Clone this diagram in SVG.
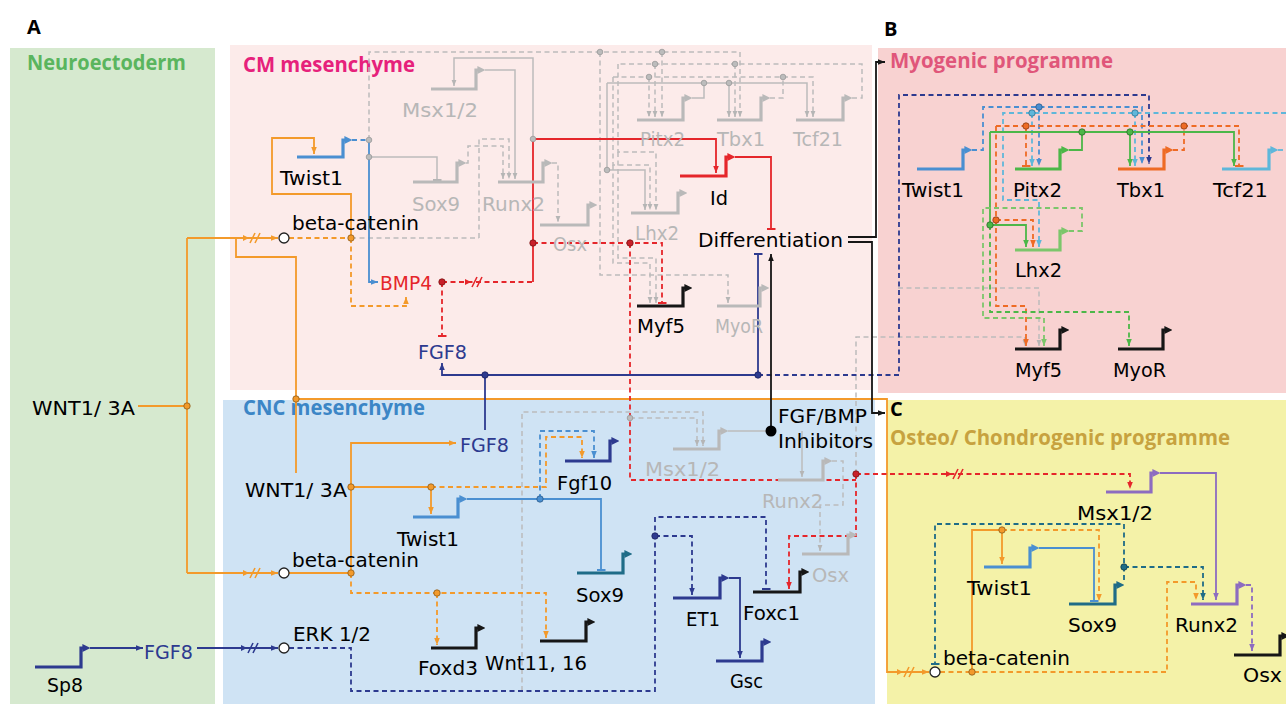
<svg xmlns="http://www.w3.org/2000/svg" width="1286" height="704" viewBox="0 0 1286 704">
<style>
text{font-family:"DejaVu Sans",Verdana,sans-serif;font-size:19px}
.hd{font-family:"Open Sans","Noto Sans",sans-serif;font-weight:700;font-size:21px}
.pl{font-family:"Open Sans","Noto Sans",sans-serif;font-weight:700;font-size:20px;fill:#000}
.lt{fill:#b7b7b7}
.g{fill:none;stroke-width:3.2}
.c{fill:none;stroke-width:1.8}
.cg{fill:none;stroke-width:1.5;stroke:#bcbcbc}
.d{stroke-dasharray:5 3.5}
.sl{fill:none;stroke-width:1.6}
.or{stroke:#f39a2b}.rd{stroke:#e5262b}.bl{stroke:#4a8fd1}.nv{stroke:#2d3a8f}.bk{stroke:#161616}
.lb{stroke:#5fb7da}.to{stroke:#ee6b25}.gr{stroke:#4cb748}.lg{stroke:#7cc66b}.pu{stroke:#8d6cc0}.tl{stroke:#1f6c87}
</style>
<defs>
<marker id="a-or" viewBox="0 0 10 10" refX="10" refY="5" markerWidth="7" markerHeight="7" markerUnits="userSpaceOnUse" orient="auto"><path d="M0,1L10,5L0,9z" fill="#f39a2b"/></marker>
<marker id="a-rd" viewBox="0 0 10 10" refX="10" refY="5" markerWidth="7" markerHeight="7" markerUnits="userSpaceOnUse" orient="auto"><path d="M0,1L10,5L0,9z" fill="#e5262b"/></marker>
<marker id="a-bl" viewBox="0 0 10 10" refX="10" refY="5" markerWidth="7" markerHeight="7" markerUnits="userSpaceOnUse" orient="auto"><path d="M0,1L10,5L0,9z" fill="#4a8fd1"/></marker>
<marker id="a-nv" viewBox="0 0 10 10" refX="10" refY="5" markerWidth="7" markerHeight="7" markerUnits="userSpaceOnUse" orient="auto"><path d="M0,1L10,5L0,9z" fill="#2d3a8f"/></marker>
<marker id="a-bk" viewBox="0 0 10 10" refX="10" refY="5" markerWidth="7" markerHeight="7" markerUnits="userSpaceOnUse" orient="auto"><path d="M0,1L10,5L0,9z" fill="#161616"/></marker>
<marker id="a-gy" viewBox="0 0 10 10" refX="10" refY="5" markerWidth="6" markerHeight="6" markerUnits="userSpaceOnUse" orient="auto"><path d="M0,1L10,5L0,9z" fill="#b5b5b5"/></marker>
<marker id="a-lb" viewBox="0 0 10 10" refX="10" refY="5" markerWidth="7" markerHeight="7" markerUnits="userSpaceOnUse" orient="auto"><path d="M0,1L10,5L0,9z" fill="#5fb7da"/></marker>
<marker id="a-to" viewBox="0 0 10 10" refX="10" refY="5" markerWidth="7" markerHeight="7" markerUnits="userSpaceOnUse" orient="auto"><path d="M0,1L10,5L0,9z" fill="#ee6b25"/></marker>
<marker id="a-gr" viewBox="0 0 10 10" refX="10" refY="5" markerWidth="7" markerHeight="7" markerUnits="userSpaceOnUse" orient="auto"><path d="M0,1L10,5L0,9z" fill="#4cb748"/></marker>
<marker id="a-lg" viewBox="0 0 10 10" refX="10" refY="5" markerWidth="7" markerHeight="7" markerUnits="userSpaceOnUse" orient="auto"><path d="M0,1L10,5L0,9z" fill="#7cc66b"/></marker>
<marker id="a-pu" viewBox="0 0 10 10" refX="10" refY="5" markerWidth="7" markerHeight="7" markerUnits="userSpaceOnUse" orient="auto"><path d="M0,1L10,5L0,9z" fill="#8d6cc0"/></marker>
<marker id="a-tl" viewBox="0 0 10 10" refX="10" refY="5" markerWidth="7" markerHeight="7" markerUnits="userSpaceOnUse" orient="auto"><path d="M0,1L10,5L0,9z" fill="#1f6c87"/></marker>
<marker id="t-rd" viewBox="0 0 10 10" refX="8" refY="5" markerWidth="9" markerHeight="9" markerUnits="userSpaceOnUse" orient="auto"><path d="M8,0V10" stroke="#e5262b" stroke-width="2.2"/></marker>
<marker id="t-bl" viewBox="0 0 10 10" refX="8" refY="5" markerWidth="9" markerHeight="9" markerUnits="userSpaceOnUse" orient="auto"><path d="M8,0V10" stroke="#4a8fd1" stroke-width="2.2"/></marker>
<marker id="t-nv" viewBox="0 0 10 10" refX="8" refY="5" markerWidth="9" markerHeight="9" markerUnits="userSpaceOnUse" orient="auto"><path d="M8,0V10" stroke="#2d3a8f" stroke-width="2.2"/></marker>
<marker id="t-gy" viewBox="0 0 10 10" refX="8" refY="5" markerWidth="9" markerHeight="9" markerUnits="userSpaceOnUse" orient="auto"><path d="M8,0V10" stroke="#b5b5b5" stroke-width="2.2"/></marker>
<marker id="t-to" viewBox="0 0 10 10" refX="8" refY="5" markerWidth="9" markerHeight="9" markerUnits="userSpaceOnUse" orient="auto"><path d="M8,0V10" stroke="#ee6b25" stroke-width="2.2"/></marker>
<marker id="t-tl" viewBox="0 0 10 10" refX="8" refY="5" markerWidth="9" markerHeight="9" markerUnits="userSpaceOnUse" orient="auto"><path d="M8,0V10" stroke="#1f6c87" stroke-width="2.2"/></marker>
<marker id="p-bl" viewBox="0 0 10 10" refX="2" refY="5" markerWidth="8" markerHeight="8" markerUnits="userSpaceOnUse" orient="auto"><path d="M0,0L10,5L0,10z" fill="#4a8fd1"/></marker>
<marker id="p-gy" viewBox="0 0 10 10" refX="2" refY="5" markerWidth="8" markerHeight="8" markerUnits="userSpaceOnUse" orient="auto"><path d="M0,0L10,5L0,10z" fill="#b9b9b9"/></marker>
<marker id="p-rd" viewBox="0 0 10 10" refX="2" refY="5" markerWidth="8" markerHeight="8" markerUnits="userSpaceOnUse" orient="auto"><path d="M0,0L10,5L0,10z" fill="#e5262b"/></marker>
<marker id="p-bk" viewBox="0 0 10 10" refX="2" refY="5" markerWidth="8" markerHeight="8" markerUnits="userSpaceOnUse" orient="auto"><path d="M0,0L10,5L0,10z" fill="#161616"/></marker>
<marker id="p-nv" viewBox="0 0 10 10" refX="2" refY="5" markerWidth="8" markerHeight="8" markerUnits="userSpaceOnUse" orient="auto"><path d="M0,0L10,5L0,10z" fill="#2d3a8f"/></marker>
<marker id="p-tl" viewBox="0 0 10 10" refX="2" refY="5" markerWidth="8" markerHeight="8" markerUnits="userSpaceOnUse" orient="auto"><path d="M0,0L10,5L0,10z" fill="#1f6c87"/></marker>
<marker id="p-gr" viewBox="0 0 10 10" refX="2" refY="5" markerWidth="8" markerHeight="8" markerUnits="userSpaceOnUse" orient="auto"><path d="M0,0L10,5L0,10z" fill="#4cb748"/></marker>
<marker id="p-lg" viewBox="0 0 10 10" refX="2" refY="5" markerWidth="8" markerHeight="8" markerUnits="userSpaceOnUse" orient="auto"><path d="M0,0L10,5L0,10z" fill="#7cc66b"/></marker>
<marker id="p-to" viewBox="0 0 10 10" refX="2" refY="5" markerWidth="8" markerHeight="8" markerUnits="userSpaceOnUse" orient="auto"><path d="M0,0L10,5L0,10z" fill="#ee6b25"/></marker>
<marker id="p-lb" viewBox="0 0 10 10" refX="2" refY="5" markerWidth="8" markerHeight="8" markerUnits="userSpaceOnUse" orient="auto"><path d="M0,0L10,5L0,10z" fill="#5fb7da"/></marker>
<marker id="p-pu" viewBox="0 0 10 10" refX="2" refY="5" markerWidth="8" markerHeight="8" markerUnits="userSpaceOnUse" orient="auto"><path d="M0,0L10,5L0,10z" fill="#8d6cc0"/></marker>
</defs>

<g id="panels">
<rect x="10" y="48" width="205" height="656" fill="#d6e9cf"/>
<rect x="230" y="45" width="642" height="345" fill="#fcebea"/>
<rect x="223" y="400" width="652" height="304" fill="#cfe3f4"/>
<rect x="878" y="48" width="408" height="345" fill="#f8d2d1"/>
<rect x="887" y="400" width="399" height="304" fill="#f4f2a8"/>
</g>

<g id="titles">
<text class="pl" x="27" y="34">A</text>
<text class="pl" x="884" y="36">B</text>
<text class="pl" x="890" y="416">C</text>
<text class="hd" x="27" y="70" fill="#5ab55e" textLength="159" lengthAdjust="spacingAndGlyphs">Neuroectoderm</text>
<text class="hd" x="243" y="72" fill="#e6217b" textLength="172" lengthAdjust="spacingAndGlyphs">CM mesenchyme</text>
<text class="hd" x="243" y="415" fill="#3c86c6" textLength="182" lengthAdjust="spacingAndGlyphs">CNC mesenchyme</text>
<text class="hd" x="890" y="68" fill="#e0567a" textLength="223" lengthAdjust="spacingAndGlyphs">Myogenic programme</text>
<text class="hd" x="890" y="445" fill="#c7a23f" textLength="340" lengthAdjust="spacingAndGlyphs">Osteo/ Chondrogenic programme</text>
</g>

<g id="connectors">
<g id="gray-links">
<path class="cg d" marker-end="url(#a-gy)" d="M369,140V52H740V117"/>
<path class="cg d" marker-end="url(#a-gy)" d="M662,52V117"/>
<path class="cg" marker-end="url(#t-gy)" d="M369,157H437V180"/>
<path class="cg d" marker-end="url(#a-gy)" d="M466,163H468V146H503V179"/>
<path class="cg d" d="M351,238H479"/>
<path class="cg d" marker-end="url(#a-gy)" d="M479,238V139H509V179"/>
<path class="cg" marker-end="url(#a-gy)" d="M485,70H515V179"/>
<path class="cg" marker-end="url(#a-gy)" d="M533,139V58H454V86"/>
<path class="cg d" marker-end="url(#a-gy)" d="M552,163H558V222"/>
<path class="cg" d="M692,98H704V83"/>
<path class="cg" marker-end="url(#a-gy)" d="M607,83H807V117"/>
<path class="cg" marker-end="url(#a-gy)" d="M729,83V117"/>
<path class="cg d" d="M770,98H783V77"/>
<path class="cg d" marker-end="url(#a-gy)" d="M613,77H813V117"/>
<path class="cg d" marker-end="url(#a-gy)" d="M649,77V117"/>
<path class="cg d" d="M852,98H862V64H618"/>
<path class="cg d" marker-end="url(#a-gy)" d="M655,64V117"/>
<path class="cg d" marker-end="url(#a-gy)" d="M735,64V117"/>
<path class="cg d" marker-end="url(#a-gy)" d="M600,52V275H728V303"/>
<path class="cg" marker-end="url(#a-gy)" d="M607,83V170H645V210"/>
<path class="cg d" marker-end="url(#a-gy)" d="M613,77V165H650V210"/>
<path class="cg d" marker-end="url(#a-gy)" d="M618,64V152H656V210"/>
<path class="cg d" marker-end="url(#a-gy)" d="M613,165V263H650V303"/>
<path class="cg d" marker-end="url(#a-gy)" d="M618,152V258H656V303"/>
<path class="cg d" marker-end="url(#a-gy)" d="M522,691V412H703V446"/>
<path class="cg d" marker-end="url(#a-gy)" d="M630,418H697V446"/>
<path class="cg" d="M728,431H771"/>
<path class="cg" marker-end="url(#a-gy)" d="M802,431V477"/>
<path class="cg d" marker-end="url(#a-gy)" d="M832,461H843V505H820V551"/>
<path class="cg d" marker-end="url(#a-gy)" d="M856,474V337H1025V346"/>
<path class="cg d" marker-end="url(#a-gy)" d="M898,288H1039V346"/>
</g>

<g id="orange-links">
<path class="c or" d="M138,406H187"/>
<path class="c or" d="M187,238V573"/>
<path class="c or" marker-end="url(#a-or)" d="M187,238H278"/>
<path class="c or" d="M236,238V257H296V473"/>
<path class="c or" marker-end="url(#a-or)" d="M187,573H278"/>
<path class="c or d" d="M289,238H351"/>
<path class="c or" marker-end="url(#a-or)" d="M351,238V194H272V138H314V154"/>
<path class="c or d" marker-end="url(#a-or)" d="M351,238V306H406V297"/>
<path class="c or" marker-end="url(#a-or)" d="M296,399H887V672H929"/>
<path class="c or" d="M289,573H351"/>
<path class="c or" marker-end="url(#a-or)" d="M351,573V443H456"/>
<path class="c or" d="M351,487H431"/>
<path class="c or" marker-end="url(#a-or)" d="M431,487V514"/>
<path class="c or d" marker-end="url(#a-or)" d="M431,487H546V437H582V458"/>
<path class="c or d" marker-end="url(#a-or)" d="M351,573V593H546V638"/>
<path class="c or d" marker-end="url(#a-or)" d="M437,593V645"/>
<path class="c or d" marker-end="url(#a-or)" d="M940,672H1167V582H1196V600"/>
<path class="c or" d="M972,672V530H1002"/>
<path class="c or" marker-end="url(#a-or)" d="M1002,530V564"/>
<path class="c or d" marker-end="url(#a-or)" d="M1002,530H1099V601"/>
<path d="M243,235L249,238L243,241z" fill="#f39a2b"/>
<path class="sl or" d="M250,243L255,233M255,243L260,233"/>
<path d="M243,570L249,573L243,576z" fill="#f39a2b"/>
<path class="sl or" d="M250,578L255,568M255,578L260,568"/>
<path d="M897,669L903,672L897,675z" fill="#f39a2b"/>
<path class="sl or" d="M904,677L909,667M909,677L914,667"/>
</g>

<g id="red-links">
<path class="c rd d" d="M442,282H533"/>
<path class="c rd" marker-end="url(#a-rd)" d="M533,282V139H716V173"/>
<path class="c rd d" marker-end="url(#t-rd)" d="M442,282V336"/>
<path class="c rd d" marker-end="url(#t-rd)" d="M533,243H662V303"/>
<path class="c rd d" d="M630,243V480H856"/>
<path class="c rd d" marker-end="url(#a-rd)" d="M856,474V536H789V589"/>
<path class="c rd d" marker-end="url(#a-rd)" d="M856,474H1130V489"/>
<path class="c rd" marker-end="url(#t-rd)" d="M735,157H771V229"/>
<path d="M465,279L471,282L465,285z" fill="#e5262b"/>
<path class="sl rd" d="M472,287L477,277M477,287L482,277"/>
<path d="M946,471L952,474L946,477z" fill="#e5262b"/>
<path class="sl rd" d="M953,479L958,469M958,479L963,469"/>
</g>

<g id="blue-links">
<path class="c bl d" d="M352,140H369"/>
<path class="c bl" marker-end="url(#a-bl)" d="M369,140V282H378"/>
<path class="c bl" marker-end="url(#t-bl)" d="M467,499H601V570"/>
<path class="c bl d" marker-end="url(#a-bl)" d="M540,499V431H594V458"/>
<path class="c bl d" marker-end="url(#a-bl)" d="M972,150H983V107H1142V164"/>
<path class="c bl d" marker-end="url(#a-bl)" d="M1039,107V166"/>
<path class="c bl" marker-end="url(#t-bl)" d="M1039,548H1094V601"/>
</g>

<g id="navy-links">
<path class="c nv" d="M485,430V375"/>
<path class="c nv" marker-end="url(#a-nv)" d="M758,375H442V363"/>
<path class="c nv" marker-end="url(#t-nv)" d="M758,375V254"/>
<path class="c nv d" marker-end="url(#a-nv)" d="M758,375H899V95H1149V164"/>
<path class="c nv" marker-end="url(#a-nv)" d="M90,648H143"/>
<path class="c nv" marker-end="url(#a-nv)" d="M197,648H278"/>
<path class="c nv d" marker-end="url(#t-nv)" d="M289,648H351V691H655V517H766V589"/>
<path class="c nv d" marker-end="url(#a-nv)" d="M655,536H692V595"/>
<path class="c nv" marker-end="url(#a-nv)" d="M729,578H740V658"/>
<path d="M241,645L247,648L241,651z" fill="#2d3a8f"/>
<path class="sl nv" d="M248,653L253,643M253,653L258,643"/>
</g>

<g id="black-links">
<path class="c bk" marker-end="url(#a-bk)" d="M771,431V254"/>
<path class="c bk" marker-end="url(#a-bk)" d="M848,237H876V62H885"/>
<path class="c bk" marker-end="url(#a-bk)" d="M848,242H872V413H885"/>
</g>

<g id="myogenic-links">
<path class="c lb d" d="M1278,150H1286"/>
<path class="c lb d" marker-end="url(#a-lb)" d="M1286,113H1003V200H1039V247"/>
<path class="c lb d" marker-end="url(#a-lb)" d="M1032,113V166"/>
<path class="c lb d" marker-end="url(#a-lb)" d="M1135,113V166"/>
<path class="c to d" d="M1173,150H1184V126"/>
<path class="c to d" marker-end="url(#t-to)" d="M996,126H1239V166"/>
<path class="c to d" marker-end="url(#t-to)" d="M1026,126V166"/>
<path class="c to d" marker-end="url(#a-to)" d="M996,126V306H1026V346"/>
<path class="c to d" marker-end="url(#a-to)" d="M996,220H1033V247"/>
<path class="c gr" d="M1069,150H1082V132"/>
<path class="c gr" marker-end="url(#a-gr)" d="M990,132H1234V166"/>
<path class="c gr" marker-end="url(#a-gr)" d="M1130,132V166"/>
<path class="c gr" marker-end="url(#a-gr)" d="M990,132V225H1026V247"/>
<path class="c gr d" marker-end="url(#a-gr)" d="M990,225V312H1129V346"/>
<path class="c lg d" marker-end="url(#a-lg)" d="M1069,231H1082V208H983V318H1044V346"/>
</g>

<g id="osteo-links">
<path class="c pu" marker-end="url(#a-pu)" d="M1160,473H1216V600"/>
<path class="c pu d" marker-end="url(#a-pu)" d="M1246,585H1252V651"/>
<path class="c tl d" marker-end="url(#t-tl)" d="M1124,580V524H935V664"/>
<path class="c tl d" marker-end="url(#a-tl)" d="M1124,567H1203V600"/>
</g>

<g id="junctions" stroke-width="0.8">
<circle cx="187" cy="406" r="3.2" fill="#f39a2b" stroke="#8a5a1a"/>
<circle cx="351" cy="238" r="3.2" fill="#f39a2b" stroke="#8a5a1a"/>
<circle cx="296" cy="399" r="3.2" fill="#f39a2b" stroke="#8a5a1a"/>
<circle cx="351" cy="573" r="3.2" fill="#f39a2b" stroke="#8a5a1a"/>
<circle cx="351" cy="487" r="3.2" fill="#f39a2b" stroke="#8a5a1a"/>
<circle cx="431" cy="487" r="3.2" fill="#f39a2b" stroke="#8a5a1a"/>
<circle cx="437" cy="593" r="3.2" fill="#f39a2b" stroke="#8a5a1a"/>
<circle cx="972" cy="672" r="3.2" fill="#f39a2b" stroke="#8a5a1a"/>
<circle cx="1002" cy="530" r="3.2" fill="#f39a2b" stroke="#8a5a1a"/>
<circle cx="442" cy="282" r="3.2" fill="#c8202a" stroke="#7a1010"/>
<circle cx="533" cy="243" r="3.2" fill="#c8202a" stroke="#7a1010"/>
<circle cx="630" cy="243" r="3.2" fill="#c8202a" stroke="#7a1010"/>
<circle cx="856" cy="474" r="3.2" fill="#c8202a" stroke="#7a1010"/>
<circle cx="540" cy="499" r="3.2" fill="#4a8fd1" stroke="#2a5a8a"/>
<circle cx="1039" cy="107" r="3.2" fill="#4a8fd1" stroke="#2a5a8a"/>
<circle cx="485" cy="375" r="3.2" fill="#2d3a8f" stroke="#1a2060"/>
<circle cx="758" cy="375" r="3.2" fill="#2d3a8f" stroke="#1a2060"/>
<circle cx="655" cy="536" r="3.2" fill="#2d3a8f" stroke="#1a2060"/>
<circle cx="369" cy="140" r="2.8" fill="#bcbcbc" stroke="#999"/>
<circle cx="369" cy="157" r="2.8" fill="#bcbcbc" stroke="#999"/>
<circle cx="533" cy="139" r="2.8" fill="#bcbcbc" stroke="#999"/>
<circle cx="600" cy="52" r="2.8" fill="#bcbcbc" stroke="#999"/>
<circle cx="662" cy="52" r="2.8" fill="#bcbcbc" stroke="#999"/>
<circle cx="655" cy="64" r="2.8" fill="#bcbcbc" stroke="#999"/>
<circle cx="735" cy="64" r="2.8" fill="#bcbcbc" stroke="#999"/>
<circle cx="649" cy="77" r="2.8" fill="#bcbcbc" stroke="#999"/>
<circle cx="783" cy="77" r="2.8" fill="#bcbcbc" stroke="#999"/>
<circle cx="704" cy="83" r="2.8" fill="#bcbcbc" stroke="#999"/>
<circle cx="729" cy="83" r="2.8" fill="#bcbcbc" stroke="#999"/>
<circle cx="607" cy="170" r="2.8" fill="#bcbcbc" stroke="#999"/>
<circle cx="630" cy="418" r="2.8" fill="#bcbcbc" stroke="#999"/>
<circle cx="1032" cy="113" r="3.2" fill="#5fb7da" stroke="#2f7090"/>
<circle cx="1135" cy="113" r="3.2" fill="#5fb7da" stroke="#2f7090"/>
<circle cx="1026" cy="126" r="3.2" fill="#ee6b25" stroke="#8a3a10"/>
<circle cx="1184" cy="126" r="3.2" fill="#ee6b25" stroke="#8a3a10"/>
<circle cx="996" cy="220" r="3.2" fill="#ee6b25" stroke="#8a3a10"/>
<circle cx="1082" cy="132" r="3.2" fill="#4cb748" stroke="#2a6a28"/>
<circle cx="1130" cy="132" r="3.2" fill="#4cb748" stroke="#2a6a28"/>
<circle cx="990" cy="225" r="3.2" fill="#4cb748" stroke="#2a6a28"/>
<circle cx="1124" cy="567" r="3.2" fill="#1f6c87" stroke="#0f3a4a"/>
</g>
</g>

<g id="ne-wnt"><text x="32" y="415" textLength="103" lengthAdjust="spacingAndGlyphs">WNT1/ 3A</text></g>
<g id="ne-sp8"><path class="g nv" marker-end="url(#p-nv)" d="M35,667H81V648H84"/><text x="47" y="692" textLength="36" lengthAdjust="spacingAndGlyphs">Sp8</text></g>
<g id="ne-fgf8"><text x="144" y="659" fill="#2d3a8f" textLength="49" lengthAdjust="spacingAndGlyphs">FGF8</text></g>

<g id="cm-twist1"><path class="g bl" marker-end="url(#p-bl)" d="M297,157H343V140H346"/><text x="280" y="185" textLength="63" lengthAdjust="spacingAndGlyphs">Twist1</text></g>
<g id="cm-betacatenin"><circle cx="284" cy="238" r="5" fill="#fff" stroke="#222" stroke-width="1.3"/><text x="292" y="230" textLength="127" lengthAdjust="spacingAndGlyphs">beta-catenin</text></g>
<g id="cm-msx"><path class="g" stroke="#b9b9b9" marker-end="url(#p-gy)" d="M431,89H476V70H479"/><text class="lt" x="402" y="117" textLength="76" lengthAdjust="spacingAndGlyphs">Msx1/2</text></g>
<g id="cm-sox9"><path class="g" stroke="#b9b9b9" marker-end="url(#p-gy)" d="M413,182H457V163H460"/><text class="lt" x="412" y="211" textLength="48" lengthAdjust="spacingAndGlyphs">Sox9</text></g>
<g id="cm-runx2"><path class="g" stroke="#b9b9b9" marker-end="url(#p-gy)" d="M498,182H543V163H546"/><text class="lt" x="482" y="211" textLength="63" lengthAdjust="spacingAndGlyphs">Runx2</text></g>
<g id="cm-osx"><path class="g" stroke="#b9b9b9" marker-end="url(#p-gy)" d="M540,225H588V205H591"/><text class="lt" x="553" y="251" textLength="34" lengthAdjust="spacingAndGlyphs">Osx</text></g>
<g id="cm-pitx2"><path class="g" stroke="#b9b9b9" marker-end="url(#p-gy)" d="M637,120H683V98H686"/><text class="lt" x="640" y="146" textLength="45" lengthAdjust="spacingAndGlyphs">Pitx2</text></g>
<g id="cm-tbx1"><path class="g" stroke="#b9b9b9" marker-end="url(#p-gy)" d="M717,120H761V98H764"/><text class="lt" x="717" y="146" textLength="48" lengthAdjust="spacingAndGlyphs">Tbx1</text></g>
<g id="cm-tcf21"><path class="g" stroke="#b9b9b9" marker-end="url(#p-gy)" d="M796,120H843V98H846"/><text class="lt" x="793" y="146" textLength="50" lengthAdjust="spacingAndGlyphs">Tcf21</text></g>
<g id="cm-id"><path class="g rd" marker-end="url(#p-rd)" d="M680,176H726V157H729"/><text x="710" y="205" textLength="18" lengthAdjust="spacingAndGlyphs">Id</text></g>
<g id="cm-lhx2"><path class="g" stroke="#b9b9b9" marker-end="url(#p-gy)" d="M631,213H678V193H681"/><text class="lt" x="635" y="240" textLength="44" lengthAdjust="spacingAndGlyphs">Lhx2</text></g>
<g id="cm-myf5"><path class="g bk" marker-end="url(#p-bk)" d="M637,306H683V288H686"/><text x="637" y="333" textLength="48" lengthAdjust="spacingAndGlyphs">Myf5</text></g>
<g id="cm-myor"><path class="g" stroke="#b9b9b9" marker-end="url(#p-gy)" d="M717,306H760V288H763"/><text class="lt" x="715" y="333" textLength="48" lengthAdjust="spacingAndGlyphs">MyoR</text></g>
<g id="cm-bmp4"><text x="380" y="290" fill="#e5262b" textLength="52" lengthAdjust="spacingAndGlyphs">BMP4</text></g>
<g id="cm-fgf8"><text x="418" y="359" fill="#2d3a8f" textLength="49" lengthAdjust="spacingAndGlyphs">FGF8</text></g>
<g id="differentiation"><text x="698" y="247" textLength="145" lengthAdjust="spacingAndGlyphs">Differentiation</text></g>

<g id="cnc-wnt"><text x="245" y="497" textLength="102" lengthAdjust="spacingAndGlyphs">WNT1/ 3A</text></g>
<g id="cnc-betacatenin"><circle cx="284" cy="573" r="5" fill="#fff" stroke="#222" stroke-width="1.3"/><text x="292" y="567" textLength="127" lengthAdjust="spacingAndGlyphs">beta-catenin</text></g>
<g id="cnc-erk"><circle cx="284" cy="648" r="5" fill="#fff" stroke="#222" stroke-width="1.3"/><text x="293" y="641" textLength="78" lengthAdjust="spacingAndGlyphs">ERK 1/2</text></g>
<g id="cnc-fgf8"><text x="460" y="452" fill="#2d3a8f" textLength="49" lengthAdjust="spacingAndGlyphs">FGF8</text></g>
<g id="cnc-twist1"><path class="g bl" marker-end="url(#p-bl)" d="M413,517H458V499H461"/><text x="397" y="546" textLength="62" lengthAdjust="spacingAndGlyphs">Twist1</text></g>
<g id="cnc-fgf10"><path class="g nv" marker-end="url(#p-nv)" d="M565,461H610V441H613"/><text x="557" y="490" textLength="55" lengthAdjust="spacingAndGlyphs">Fgf10</text></g>
<g id="cnc-msx"><path class="g" stroke="#b9b9b9" marker-end="url(#p-gy)" d="M673,449H719V431H722"/><text class="lt" x="645" y="476" textLength="75" lengthAdjust="spacingAndGlyphs">Msx1/2</text></g>
<g id="cnc-sox9"><path class="g tl" marker-end="url(#p-tl)" d="M577,573H623V554H626"/><text x="576" y="602" textLength="48" lengthAdjust="spacingAndGlyphs">Sox9</text></g>
<g id="cnc-foxd3"><path class="g bk" marker-end="url(#p-bk)" d="M431,648H476V628H479"/><text x="418" y="675" textLength="60" lengthAdjust="spacingAndGlyphs">Foxd3</text></g>
<g id="cnc-wnt11"><path class="g bk" marker-end="url(#p-bk)" d="M540,641H586V622H589"/><text x="485" y="670" textLength="102" lengthAdjust="spacingAndGlyphs">Wnt11, 16</text></g>
<g id="cnc-et1"><path class="g nv" marker-end="url(#p-nv)" d="M673,598H720V578H723"/><text x="686" y="626" textLength="34" lengthAdjust="spacingAndGlyphs">ET1</text></g>
<g id="cnc-gsc"><path class="g nv" marker-end="url(#p-nv)" d="M716,661H762V642H765"/><text x="730" y="688" textLength="33" lengthAdjust="spacingAndGlyphs">Gsc</text></g>
<g id="cnc-foxc1"><path class="g bk" marker-end="url(#p-bk)" d="M753,592H800V572H803"/><text x="743" y="620" textLength="57" lengthAdjust="spacingAndGlyphs">Foxc1</text></g>
<g id="cnc-runx2"><path class="g" stroke="#b9b9b9" marker-end="url(#p-gy)" d="M778,480H823V461H826"/><text class="lt" x="762" y="508" textLength="61" lengthAdjust="spacingAndGlyphs">Runx2</text></g>
<g id="cnc-osx"><path class="g" stroke="#b9b9b9" marker-end="url(#p-gy)" d="M802,554H848V535H851"/><text class="lt" x="812" y="582" textLength="37" lengthAdjust="spacingAndGlyphs">Osx</text></g>
<g id="cnc-inhibitors"><circle cx="771" cy="431" r="5.5" fill="#000"/><text x="778" y="423" textLength="89" lengthAdjust="spacingAndGlyphs">FGF/BMP</text><text x="778" y="448" textLength="95" lengthAdjust="spacingAndGlyphs">Inhibitors</text></g>

<g id="b-twist1"><path class="g bl" marker-end="url(#p-bl)" d="M917,169H963V150H966"/><text x="902" y="197" textLength="62" lengthAdjust="spacingAndGlyphs">Twist1</text></g>
<g id="b-pitx2"><path class="g gr" marker-end="url(#p-gr)" d="M1015,169H1060V150H1063"/><text x="1013" y="197" textLength="49" lengthAdjust="spacingAndGlyphs">Pitx2</text></g>
<g id="b-tbx1"><path class="g to" marker-end="url(#p-to)" d="M1118,169H1164V150H1167"/><text x="1117" y="197" textLength="48" lengthAdjust="spacingAndGlyphs">Tbx1</text></g>
<g id="b-tcf21"><path class="g lb" marker-end="url(#p-lb)" d="M1222,169H1269V150H1272"/><text x="1213" y="197" textLength="55" lengthAdjust="spacingAndGlyphs">Tcf21</text></g>
<g id="b-lhx2"><path class="g lg" marker-end="url(#p-lg)" d="M1015,250H1060V231H1063"/><text x="1015" y="277" textLength="47" lengthAdjust="spacingAndGlyphs">Lhx2</text></g>
<g id="b-myf5"><path class="g bk" marker-end="url(#p-bk)" d="M1015,349H1060V330H1063"/><text x="1015" y="377" textLength="47" lengthAdjust="spacingAndGlyphs">Myf5</text></g>
<g id="b-myor"><path class="g bk" marker-end="url(#p-bk)" d="M1118,349H1163V330H1166"/><text x="1113" y="377" textLength="53" lengthAdjust="spacingAndGlyphs">MyoR</text></g>

<g id="c-msx"><path class="g pu" marker-end="url(#p-pu)" d="M1106,492H1151V473H1154"/><text x="1077" y="520" textLength="76" lengthAdjust="spacingAndGlyphs">Msx1/2</text></g>
<g id="c-twist1"><path class="g bl" marker-end="url(#p-bl)" d="M984,567H1030V548H1033"/><text x="967" y="595" textLength="65" lengthAdjust="spacingAndGlyphs">Twist1</text></g>
<g id="c-sox9"><path class="g tl" marker-end="url(#p-tl)" d="M1069,604H1115V585H1118"/><text x="1068" y="632" textLength="49" lengthAdjust="spacingAndGlyphs">Sox9</text></g>
<g id="c-runx2"><path class="g pu" marker-end="url(#p-pu)" d="M1191,604H1237V585H1240"/><text x="1175" y="632" textLength="63" lengthAdjust="spacingAndGlyphs">Runx2</text></g>
<g id="c-osx"><path class="g bk" marker-end="url(#p-bk)" d="M1234,655H1280V636H1283"/><text x="1243" y="682" textLength="39" lengthAdjust="spacingAndGlyphs">Osx</text></g>
<g id="c-betacatenin"><circle cx="935" cy="672" r="5" fill="#fff" stroke="#222" stroke-width="1.3"/><text x="943" y="665" textLength="127" lengthAdjust="spacingAndGlyphs">beta-catenin</text></g>
</svg>
